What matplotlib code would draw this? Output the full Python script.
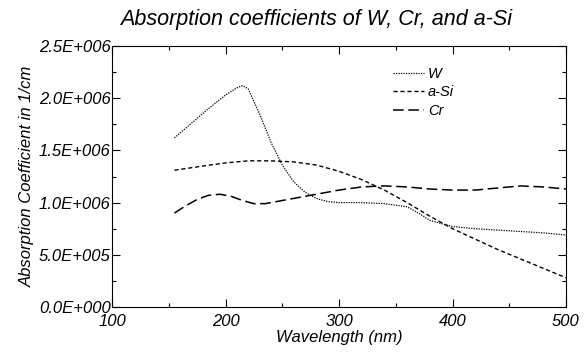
import matplotlib.pyplot as plt
from matplotlib.ticker import MultipleLocator

plt.rcParams['font.family'] = ['Liberation Sans', 'DejaVu Sans']

# ── DATA ──────────────────────────────────────────────────────────────
w_nm = [155, 170, 185, 200, 210, 215, 220, 230, 240, 250, 260, 270, 280, 290,
        300, 320, 340, 360, 370, 380, 400, 420, 450, 480, 500]
w_abs = [1.62e6, 1.76e6, 1.90e6, 2.03e6, 2.10e6, 2.12e6, 2.09e6, 1.85e6, 1.58e6,
         1.36e6, 1.20e6, 1.10e6, 1.04e6, 1.01e6, 1.00e6, 1.00e6, 0.99e6, 0.96e6,
         0.90e6, 0.83e6, 0.77e6, 0.75e6, 0.73e6, 0.71e6, 0.69e6]

si_nm = [155, 180, 200, 220, 240, 260, 280, 300, 320, 340, 360, 380, 400, 420,
         440, 460, 480, 500]
si_abs = [1.31e6, 1.35e6, 1.38e6, 1.40e6, 1.40e6, 1.39e6, 1.36e6, 1.30e6, 1.22e6,
          1.12e6, 1.00e6, 0.87e6, 0.75e6, 0.65e6, 0.55e6, 0.46e6, 0.37e6, 0.28e6]

cr_nm = [155, 165, 175, 185, 195, 205, 215, 225, 235, 250, 265, 280, 300, 320,
         340, 360, 380, 400, 420, 440, 460, 480, 500]
cr_abs = [0.90e6, 0.97e6, 1.03e6, 1.07e6, 1.08e6, 1.06e6, 1.02e6, 0.99e6, 0.99e6,
          1.02e6, 1.05e6, 1.08e6, 1.12e6, 1.15e6, 1.16e6, 1.15e6, 1.13e6, 1.12e6,
          1.12e6, 1.14e6, 1.16e6, 1.15e6, 1.13e6]

W, H = 587, 353
fig = plt.figure(figsize=(W / 100, H / 100), dpi=100)
# axes box in pixels: left 112, right 566, top 46, bottom 307
ax = fig.add_axes([112 / W, 1 - 307 / H, (566 - 112) / W, (307 - 46) / H])

ax.plot(w_nm, w_abs, color='black', lw=0.9, linestyle=(0, (1, 1)), label='W')
ax.plot(si_nm, si_abs, color='black', lw=1.0, linestyle=(0, (3, 2)), label='a-Si')
ax.plot(cr_nm, cr_abs, color='black', lw=1.1, linestyle=(0, (7, 3)), label='Cr')

ax.set_xlim(100, 500)
ax.set_ylim(0, 2.5e6)
ax.xaxis.set_major_locator(MultipleLocator(100))
ax.xaxis.set_minor_locator(MultipleLocator(50))
ax.yaxis.set_major_locator(MultipleLocator(0.5e6))
ax.yaxis.set_minor_locator(MultipleLocator(0.25e6))

def sci(v, pos):
    m, e = f"{v:.1E}".split("E")
    return f"{m}E{e[0]}{int(e[1:]):03d}"
ax.yaxis.set_major_formatter(plt.FuncFormatter(sci))

ax.tick_params(which='both', direction='in', top=True, right=True, width=0.8)
ax.tick_params(which='major', length=6, labelsize=12)
ax.tick_params(which='minor', length=3)
ax.tick_params(axis='y', pad=1)
ax.tick_params(axis='x', pad=5)
for lab in ax.get_xticklabels() + ax.get_yticklabels():
    lab.set_fontstyle('italic')
for s in ax.spines.values():
    s.set_linewidth(0.8)

ax.set_xlabel('Wavelength (nm)', fontstyle='italic', fontsize=12, labelpad=1)
ax.set_ylabel('Absorption Coefficient in 1/cm', fontstyle='italic', fontsize=12, labelpad=3)
fig.text(316 / W, 1 - 20 / H, 'Absorption coefficients of W, Cr, and a-Si',
         fontstyle='italic', fontsize=15.5, ha='center', va='center')

ax.legend(loc='upper left', bbox_to_anchor=(0.59, 0.97), frameon=False,
          handlelength=2.1, handletextpad=0.3, labelspacing=0.3,
          prop={'style': 'italic', 'size': 10.5})

fig.savefig('out.png', dpi=100)
